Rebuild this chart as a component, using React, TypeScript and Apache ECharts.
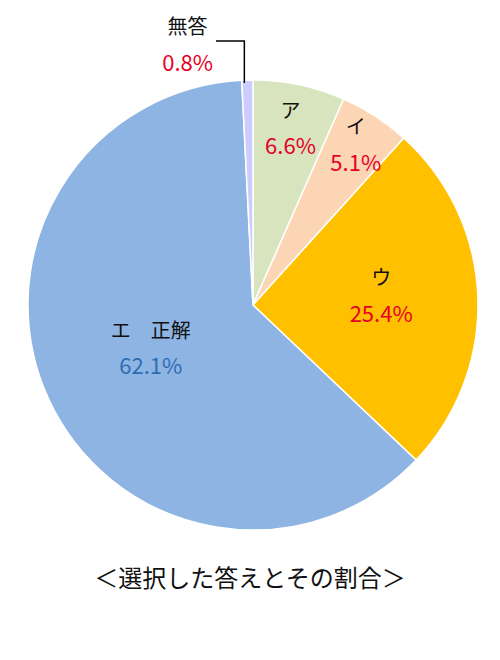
import React, { useEffect, useRef } from "react";
import * as echarts from "echarts";

const categories = ["ア", "イ", "ウ", "エ　正解", "無答"];
const values = [6.6, 5.1, 25.4, 62.1, 0.8];
const sliceColors = ["#D7E4BD", "#FCD5B5", "#FFC000", "#8EB4E3", "#CCCCFF"];
const valueStyles = ["red", "red", "red", "blue", "red"];
const labelRadius = [0.81, 0.84, 0.57, 0.5, 0];
const labelNudgeY = [0, -3, -6, -5, 0];
const titleText = "＜選択した答えとその割合＞";

const CX = 253;
const CY = 305;
const R = 225;
const FONT = "'Noto Sans CJK JP', 'Noto Sans', sans-serif";

export default function App() {
  const ref = useRef<HTMLDivElement>(null);
  useEffect(() => {
    if (!ref.current) return;
    const chart = echarts.init(ref.current, undefined, { renderer: "svg" });
    const total = values.reduce((a, b) => a + b, 0);
    const starts: number[] = [];
    let acc = 0;
    values.forEach((v) => {
      starts.push(acc);
      acc += v;
    });
    const midAngle = (i: number) => ((starts[i] + values[i] / 2) / total) * Math.PI * 2;
    const outIdx = categories.indexOf("無答");
    const om = midAngle(outIdx);
    const ex = CX + R * Math.sin(om) - 3;
    const ey = CY - R * Math.cos(om) + 3;

    const data = categories.map((name, i) => ({
      name,
      value: values[i],
      itemStyle: { color: sliceColors[i] },
    }));
    chart.setOption({
      animation: false,
      backgroundColor: "#fff",
      title: {
        text: titleText,
        left: "center",
        top: 559,
        textStyle: { fontFamily: FONT, fontSize: 24, fontWeight: "normal", color: "#111" },
      },
      graphic: [
        {
          type: "polyline",
          z: 100,
          shape: { points: [[ex, ey], [ex, 41], [216, 41]] },
          style: { stroke: "#000", lineWidth: 1.5, fill: "none" },
        },
      ],
      series: [
        {
          type: "pie",
          center: [CX, CY],
          radius: [0, R],
          startAngle: 90,
          clockwise: true,
          avoidLabelOverlap: false,
          itemStyle: { borderColor: "#fff", borderWidth: 1.5 },
          label: {
            show: true,
            position: "inside",
            fontFamily: FONT,
            formatter: (p: any) =>
              `{n|${p.name}}\n{${valueStyles[p.dataIndex]}|${Number(p.value).toFixed(1)}%}`,
            rich: {
              n: { fontFamily: FONT, fontSize: 20, color: "#111", lineHeight: 35, align: "center" },
              red: { fontFamily: FONT, fontSize: 22, color: "#E60026", lineHeight: 35, align: "center" },
              blue: { fontFamily: FONT, fontSize: 22, color: "#2E6DB4", lineHeight: 35, align: "center" },
            },
          },
          labelLine: { show: false },
          labelLayout: (p: any) => {
            const i = p.dataIndex;
            const mid = midAngle(i);
            if (i === outIdx) {
              return { x: 213, y: 43, align: "right", verticalAlign: "middle" };
            }
            const rr = R * labelRadius[i];
            return {
              x: CX + rr * Math.sin(mid),
              y: CY - rr * Math.cos(mid) + labelNudgeY[i],
              align: "center",
              verticalAlign: "middle",
            };
          },
          data,
        },
      ],
    });
    return () => chart.dispose();
  }, []);
  return (
    <div
      ref={ref}
      style={{ position: "fixed", left: 0, top: 0, width: 500, height: 660, background: "#fff" }}
    />
  );
}
